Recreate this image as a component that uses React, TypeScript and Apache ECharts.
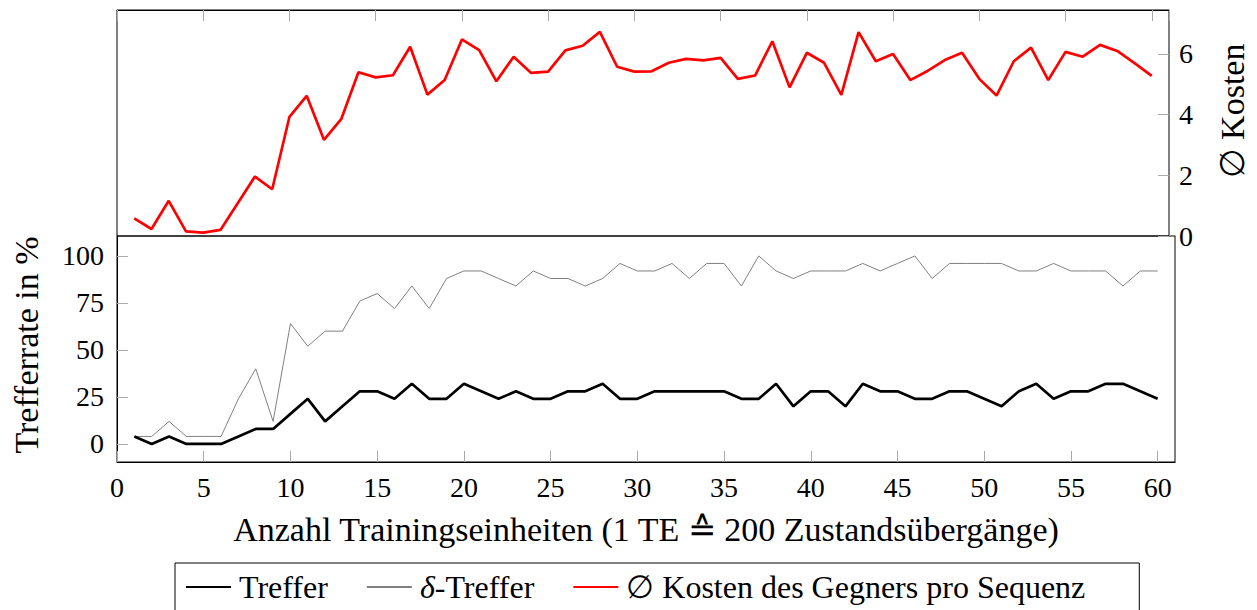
import React, { useEffect, useRef } from "react";
import * as echarts from "echarts";

const xValues: number[] = Array.from({ length: 60 }, (_, i) => i + 1);

const kosten: number[] = [
  0.58, 0.23, 1.16, 0.15, 0.11, 0.2, 1.08, 1.96, 1.54, 3.93,
  4.62, 3.17, 3.85, 5.4, 5.23, 5.3, 6.24, 4.66, 5.14, 6.48,
  6.13, 5.1, 5.91, 5.38, 5.42, 6.12, 6.27, 6.73, 5.58, 5.42,
  5.43, 5.71, 5.84, 5.79, 5.87, 5.18, 5.29, 6.42, 4.9, 6.04,
  5.71, 4.65, 6.72, 5.76, 6.0, 5.14, 5.44, 5.8, 6.04, 5.18,
  4.63, 5.76, 6.21, 5.14, 6.07, 5.91, 6.3, 6.1, 5.7, 5.28,
];

const deltaTreffer: number[] = [
  4, 4, 12, 4, 4, 4, 24, 40, 12, 64,
  52, 60, 60, 76, 80, 72, 84, 72, 88, 92,
  92, 88, 84, 92, 88, 88, 84, 88, 96, 92,
  92, 96, 88, 96, 96, 84, 100, 92, 88, 92,
  92, 92, 96, 92, 96, 100, 88, 96, 96, 96,
  96, 92, 92, 96, 92, 92, 92, 84, 92, 92,
];

const treffer: number[] = [
  4, 0, 4, 0, 0, 0, 4, 8, 8, 16,
  24, 12, 20, 28, 28, 24, 32, 24, 24, 32,
  28, 24, 28, 24, 24, 28, 28, 32, 24, 24,
  28, 28, 28, 28, 28, 24, 24, 32, 20, 28,
  28, 20, 32, 28, 28, 24, 24, 28, 28, 24,
  20, 28, 32, 24, 28, 28, 32, 32, 28, 24,
];

const hitTicks: number[] = [0, 25, 50, 75, 100];

const seriesNames = {
  treffer: "Treffer",
  delta: "δ-Treffer",
  kosten: "∅ Kosten des Gegners pro Sequenz",
};

const FONT = "Liberation Serif";
const TICK_COLOR = "#aaaaaa";

export default function App() {
  const ref = useRef<HTMLDivElement>(null);

  useEffect(() => {
    if (!ref.current) return;
    const chart = echarts.init(ref.current, null, { renderer: "svg" });
    const pair = (arr: number[]) => arr.map((v, i) => [xValues[i], v]);

    const gridL = 117;
    const gridR = 1257 - 1175;

    const tick = { show: true, inside: true, length: 11, lineStyle: { color: TICK_COLOR, width: 1 } };
    const labelStyle = { fontSize: 28, fontFamily: FONT, color: "#000" };
    const nameStyle = { fontSize: 34, fontFamily: FONT, color: "#000" };

    const option: any = {
      animation: false,
      backgroundColor: "#fff",
      textStyle: { fontFamily: FONT },
      grid: [
        { left: gridL, right: gridR, top: 10, height: 226, show: true, borderColor: "#000", borderWidth: 1 },
        { left: gridL, right: gridR, top: 236, height: 226, show: true, borderColor: "#000", borderWidth: 1 },
      ],
      xAxis: [
        {
          type: "value",
          gridIndex: 0,
          position: "top",
          min: 0,
          max: 61,
          interval: 5,
          axisLine: { show: true, onZero: false, lineStyle: { color: "#000", width: 1 } },
          axisTick: tick,
          axisLabel: { show: false },
          splitLine: { show: false },
        },
        {
          type: "value",
          gridIndex: 1,
          position: "bottom",
          min: 0,
          max: 61,
          interval: 5,
          axisLine: { show: true, onZero: false, lineStyle: { color: "#000", width: 1 } },
          axisTick: tick,
          axisLabel: { show: true, showMaxLabel: false, margin: 11, ...labelStyle },
          splitLine: { show: false },
          name: "Anzahl Trainingseinheiten (1 TE ≙ 200 Zustandsübergänge)",
          nameLocation: "middle",
          nameGap: 50,
          nameTextStyle: nameStyle,
        },
      ],
      yAxis: [
        {
          type: "value",
          gridIndex: 0,
          position: "right",
          min: 0,
          max: 7.45,
          interval: 2,
          axisLine: { show: true, onZero: false, lineStyle: { color: "#808080", width: 1 } },
          axisTick: tick,
          axisLabel: { show: true, showMaxLabel: false, margin: 10, ...labelStyle },
          splitLine: { show: false },
          name: "∅ Kosten",
          nameLocation: "middle",
          nameGap: 46,
          nameTextStyle: { ...nameStyle, padding: [0, 0, 0, 24] },
        },
        {
          type: "value",
          gridIndex: 1,
          position: "left",
          min: -9.6,
          max: 110.6,
          axisLine: { show: true, onZero: false, lineStyle: { color: "#000", width: 1 } },
          axisTick: { ...tick, customValues: hitTicks },
          axisLabel: { show: true, customValues: hitTicks, margin: 13, ...labelStyle },
          splitLine: { show: false },
          name: "Trefferrate in %",
          nameLocation: "middle",
          nameGap: 74,
          nameTextStyle: { ...nameStyle, padding: [0, 0, 0, 8] },
        },
        {
          type: "value",
          gridIndex: 1,
          position: "right",
          min: -9.6,
          max: 110.6,
          axisLine: { show: true, onZero: false, lineStyle: { color: "#808080", width: 1 } },
          axisTick: { show: false },
          axisLabel: { show: false },
          splitLine: { show: false },
        },
      ],
      legend: {
        top: 563,
        left: 175,
        borderColor: "#000",
        borderWidth: 1,
        padding: [8, 54, 16, 10],
        itemWidth: 45,
        itemHeight: 14,
        itemGap: 38,
        itemStyle: { color: "transparent", borderColor: "transparent", borderWidth: 0, opacity: 0 },
        data: [seriesNames.treffer, seriesNames.delta, seriesNames.kosten],
        formatter: (name: string) => (name === seriesNames.delta ? "{i|δ}-Treffer" : name),
        textStyle: {
          fontSize: 32,
          fontFamily: FONT,
          color: "#000",
          padding: [0, 0, 0, 3],
          rich: { i: { fontSize: 32, fontFamily: FONT, fontStyle: "italic", color: "#000" } },
        },
      },
      series: [
        {
          name: seriesNames.kosten,
          type: "line",
          xAxisIndex: 0,
          yAxisIndex: 0,
          data: pair(kosten),
          symbol: "none",
          lineStyle: { color: "#ff0000", width: 2.7 },
          itemStyle: { color: "#ff0000" },
          z: 3,
        },
        {
          name: seriesNames.delta,
          type: "line",
          xAxisIndex: 1,
          yAxisIndex: 1,
          data: pair(deltaTreffer),
          symbol: "none",
          lineStyle: { color: "#808080", width: 1 },
          itemStyle: { color: "#808080" },
          z: 2,
        },
        {
          name: seriesNames.treffer,
          type: "line",
          xAxisIndex: 1,
          yAxisIndex: 1,
          data: pair(treffer),
          symbol: "none",
          lineStyle: { color: "#000", width: 2.7 },
          itemStyle: { color: "#000" },
          z: 3,
        },
      ],
    };

    chart.setOption(option);
    return () => chart.dispose();
  }, []);

  return (
    <div
      ref={ref}
      style={{ position: "fixed", left: 0, top: 0, width: 1257, height: 610, background: "#fff" }}
    />
  );
}
